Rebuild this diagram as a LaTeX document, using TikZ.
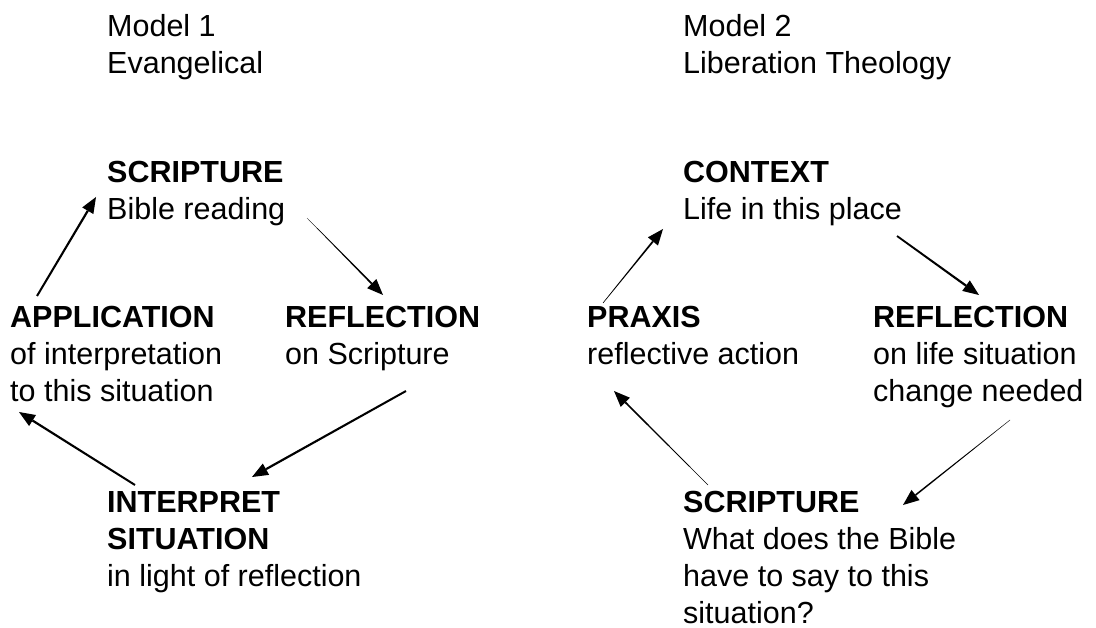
\documentclass[tikz,border=0pt]{standalone}
\usepackage{fontspec}
\setmainfont{Liberation Sans}
\usetikzlibrary{calc}
\tikzset{
  lbl/.style={anchor=north west, align=left, inner sep=0pt, font=\fontsize{30.5}{37}\selectfont},
}
\newcommand\fl{\rule{0pt}{24pt}}
% tapered arrow: tail, head, tail half width, shaft half width at head
\newcommand\taparrow[4]{%
  \path ($(#2)!16pt!(#1)$) coordinate (tmpH);
  \fill ($(#1)!#3!90:(#2)$) -- ($(tmpH)!#4!90:(#2)$) -- ($(tmpH)!#4!-90:(#2)$) -- ($(#1)!#3!-90:(#2)$) -- cycle;
  \fill (#2) -- ($(tmpH)!6.5pt!90:(#2)$) -- ($(tmpH)!6.5pt!-90:(#2)$) -- cycle;
}
\begin{document}
\begin{tikzpicture}[x=1pt,y=-1pt]
\useasboundingbox (0,0) rectangle (1096,628);
% Model 1 (first-line baseline = y + 24)
\node[lbl] (m1) at (107,12)  {\fl Model 1\\Evangelical};
\node[lbl] (s1) at (107,158) {\fl\textbf{SCRIPTURE}\\Bible reading};
\node[lbl] (a1) at (10,303)  {\fl\textbf{APPLICATION}\\of interpretation\\to this situation};
\node[lbl] (r1) at (285,303) {\fl\textbf{REFLECTION}\\on Scripture};
\node[lbl] (i1) at (107,488) {\fl\textbf{INTERPRET}\\\textbf{SITUATION}\\in light of reflection};
% Model 2
\node[lbl] (m2) at (683,12)  {\fl Model 2\\Liberation Theology};
\node[lbl] (c2) at (683,158) {\fl\textbf{CONTEXT}\\Life in this place};
\node[lbl] (p2) at (587,303) {\fl\textbf{PRAXIS}\\reflective action};
\node[lbl] (r2) at (873,303) {\fl\textbf{REFLECTION}\\on life situation\\change needed};
\node[lbl] (s2) at (683,488) {\fl\textbf{SCRIPTURE}\\What does the Bible\\have to say to this\\situation?};
% arrow end points
\coordinate (a1s) at (37,296);   \coordinate (s1e) at (96,197);
\coordinate (s1s) at (307,218);  \coordinate (r1e) at (383,295);
\coordinate (r1s) at (406,391);  \coordinate (i1e) at (252,477);
\coordinate (i1s) at (135,485);  \coordinate (a1e) at (19,412);
\coordinate (p2s) at (603,303);  \coordinate (c2e) at (663,229);
\coordinate (c2s) at (897,236);  \coordinate (r2e) at (979,295);
\coordinate (r2s) at (1010,420); \coordinate (s2e) at (903,505);
\coordinate (s2s) at (708,485);  \coordinate (p2e) at (614,391);
\taparrow{a1s}{s1e}{1.0pt}{1.1pt}
\taparrow{s1s}{r1e}{0.15pt}{0.9pt}
\taparrow{r1s}{i1e}{1.0pt}{1.1pt}
\taparrow{i1s}{a1e}{1.0pt}{1.1pt}
\taparrow{p2s}{c2e}{0.3pt}{0.9pt}
\taparrow{c2s}{r2e}{0.9pt}{1.1pt}
\taparrow{r2s}{s2e}{0.2pt}{0.8pt}
\taparrow{s2s}{p2e}{0.2pt}{0.9pt}
\end{tikzpicture}
\end{document}
